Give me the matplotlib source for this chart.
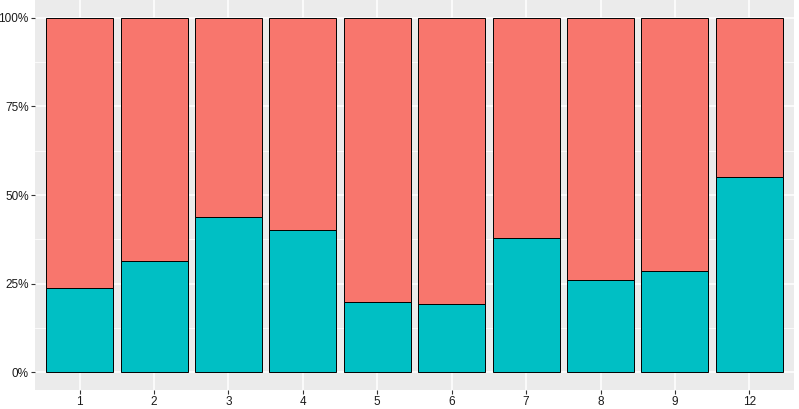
import matplotlib.pyplot as plt
import numpy as np
from matplotlib.ticker import PercentFormatter, MultipleLocator

plt.rcParams['font.family'] = ['Liberation Sans', 'DejaVu Sans']

categories = ['1', '2', '3', '4', '5', '6', '7', '8', '9', '12']
teal_share = [0.239, 0.315, 0.438, 0.402, 0.199, 0.192, 0.378, 0.261, 0.287, 0.551]
red_share = [1 - v for v in teal_share]

fig = plt.figure(figsize=(7.99, 4.09), dpi=100)
ax = fig.add_axes([35 / 799, 19 / 409, 759 / 799, 390 / 409])
ax.set_facecolor('#EBEBEB')

x = np.arange(len(categories))
ax.bar(x, teal_share, width=0.9, color='#00BFC4', edgecolor='black', linewidth=0.7, zorder=3)
ax.bar(x, red_share, bottom=teal_share, width=0.9, color='#F8766D', edgecolor='black', linewidth=0.7, zorder=3)

ax.set_xlim(-0.6, len(categories) - 0.4)
ax.set_ylim(-0.05, 1.05)
ax.set_xticks(x)
ax.set_xticklabels(categories)
ax.yaxis.set_major_locator(MultipleLocator(0.25))
ax.yaxis.set_minor_locator(MultipleLocator(0.125))
ax.yaxis.set_major_formatter(PercentFormatter(1.0, decimals=0))

ax.grid(which='major', color='white', linewidth=1.1, zorder=0)
ax.grid(which='minor', axis='y', color='white', linewidth=0.55, zorder=0)
ax.set_axisbelow(True)
for s in ax.spines.values():
    s.set_visible(False)
ax.tick_params(which='major', length=3, color='#333333', labelsize=8.5, labelcolor='#1a1a1a', pad=1.5)
ax.tick_params(which='minor', length=0)

fig.savefig('out.png', dpi=100)
